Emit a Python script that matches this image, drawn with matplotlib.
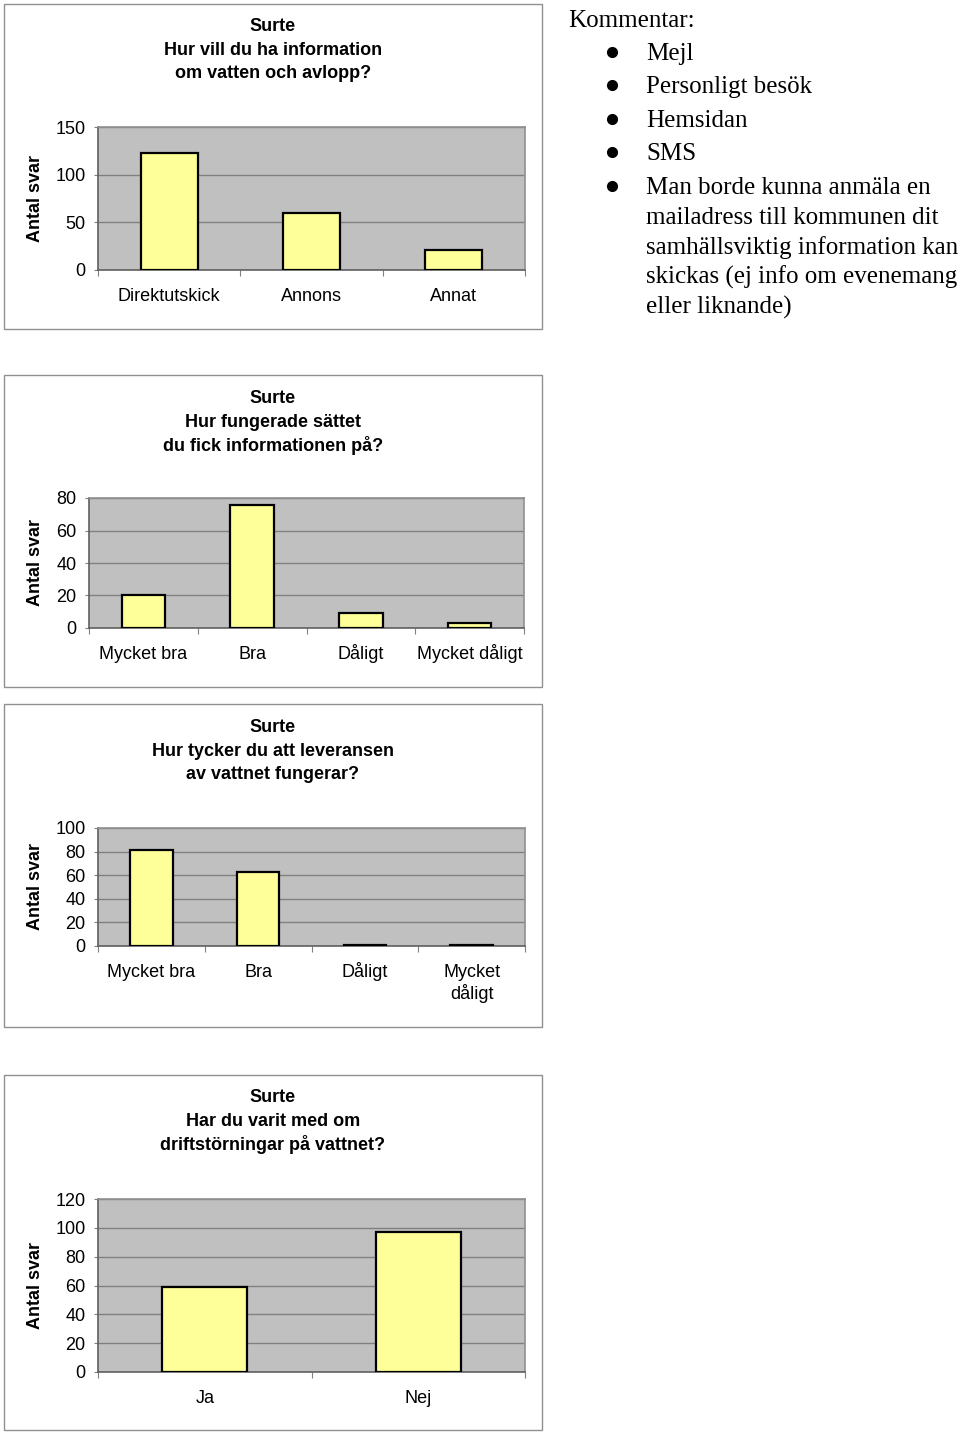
import matplotlib
matplotlib.use('Agg')
import matplotlib.pyplot as plt
from matplotlib.patches import Rectangle
from matplotlib.lines import Line2D
import numpy as np

plt.rcParams['font.family'] = ['Liberation Sans', 'DejaVu Sans']

W, H = 960, 1434

# data
info_labels = ['Direktutskick', 'Annons', 'Annat']
info_values = [123, 60, 21]

method_labels = ['Mycket bra', 'Bra', 'Dåligt', 'Mycket dåligt']
method_values = [20, 76, 9, 3]

delivery_labels = ['Mycket bra', 'Bra', 'Dåligt', 'Mycket\ndåligt']
delivery_values = [81, 63, 1, 1]

outage_labels = ['Ja', 'Nej']
outage_values = [59, 97]

comment_head = 'Kommentar:'
comment_items = ['Mejl', 'Personligt besök', 'Hemsidan', 'SMS',
                 'Man borde kunna anmäla en\nmailadress till kommunen dit\n'
                 'samhällsviktig information kan\nskickas (ej info om evenemang\n'
                 'eller liknande)']

panels = [
    dict(title='Surte\nHur vill du ha information\nom vatten och avlopp?',
         labels=info_labels, values=info_values, ymax=150, step=50,
         frame=(4, 4, 542, 329), plot=(98, 127, 525, 270), title_y=25),
    dict(title='Surte\nHur fungerade sättet\ndu fick informationen på?',
         labels=method_labels, values=method_values, ymax=80, step=20,
         frame=(4, 375, 542, 687), plot=(89, 498, 524, 628), title_y=397),
    dict(title='Surte\nHur tycker du att leveransen\nav vattnet fungerar?',
         labels=delivery_labels, values=delivery_values, ymax=100, step=20,
         frame=(4, 704, 542, 1027), plot=(98, 828, 525, 946), title_y=726),
    dict(title='Surte\nHar du varit med om\ndriftstörningar på vattnet?',
         labels=outage_labels, values=outage_values, ymax=120, step=20,
         frame=(4, 1075, 542, 1430), plot=(98, 1199, 525, 1372), title_y=1096),
]


def fx(x):
    return x / W


def fy(y):
    return 1 - y / H


fig = plt.figure(figsize=(W / 100, H / 100), dpi=100)

for p in panels:
    x0, y0, x1, y1 = p['frame']
    fig.patches.append(Rectangle((fx(x0), fy(y1)), fx(x1 - x0), (y1 - y0) / H,
                                 transform=fig.transFigure, fill=False,
                                 edgecolor='#909090', linewidth=1))
    lines = p['title'].split('\n')
    for i, line in enumerate(lines):
        fig.text(fx(273), fy(p['title_y'] + 1.5 + i * 23.7), line, ha='center',
                 va='center', fontsize=13, fontweight='bold')

    px0, py0, px1, py1 = p['plot']
    ax = fig.add_axes([fx(px0), fy(py1), fx(px1 - px0), (py1 - py0) / H])
    n = len(p['values'])
    x = np.arange(n)
    ax.set_facecolor('#C0C0C0')
    ax.set_axisbelow(True)
    ax.bar(x, p['values'], width=0.4, color='#FFFF99', edgecolor='black',
           linewidth=1.6, zorder=3)
    ax.set_xlim(-0.5, n - 0.5)
    ax.set_ylim(0, p['ymax'])
    ax.set_yticks(np.arange(0, p['ymax'] + 1, p['step']))
    ax.yaxis.grid(True, color='#808080', linewidth=1)
    ax.set_xticks(np.arange(n + 1) - 0.5)
    ax.set_xticklabels([])
    ax.set_xticks(x, minor=True)
    ax.set_xticklabels(p['labels'], minor=True, linespacing=1.2)
    ax.tick_params(axis='x', which='minor', length=0, pad=22.5, labelsize=13)
    ax.tick_params(axis='x', which='major', length=4, color='#808080')
    ax.tick_params(axis='y', length=3, pad=6, labelsize=13, color='#808080')
    # align category names on the baseline of their first line
    for lab in ax.get_xticklabels(minor=True):
        lab.set_va('baseline')
        extra = lab.get_text().count('\n')
        if extra:
            lab.set_y(-extra * 22 / (py1 - py0))
    for side in ['top', 'right']:
        ax.spines[side].set_color('#909090')
    for side in ['left', 'bottom']:
        ax.spines[side].set_color('#606060')
    for s in ax.spines.values():
        s.set_linewidth(1.2)
    fig.text(fx(36), fy((py0 + py1) / 2), 'Antal svar', rotation=90,
             ha='center', va='center', fontsize=13, fontweight='bold')

# comments beside the first chart
serif = ['Liberation Serif', 'DejaVu Serif']
fig.text(fx(568), fy(27), comment_head, family=serif, fontsize=18,
         va='baseline', ha='left')
baselines = [60, 93, 127, 160, 194]
for item, b in zip(comment_items, baselines):
    fig.add_artist(Line2D([fx(612)], [fy(b - 8)], marker='o', markersize=7,
                          color='black', transform=fig.transFigure))
    for j, line in enumerate(item.split('\n')):
        fig.text(fx(646), fy(b + j * 29.8), line, family=serif, fontsize=18,
                 va='baseline', ha='left')

fig.savefig('out.png', dpi=100)
